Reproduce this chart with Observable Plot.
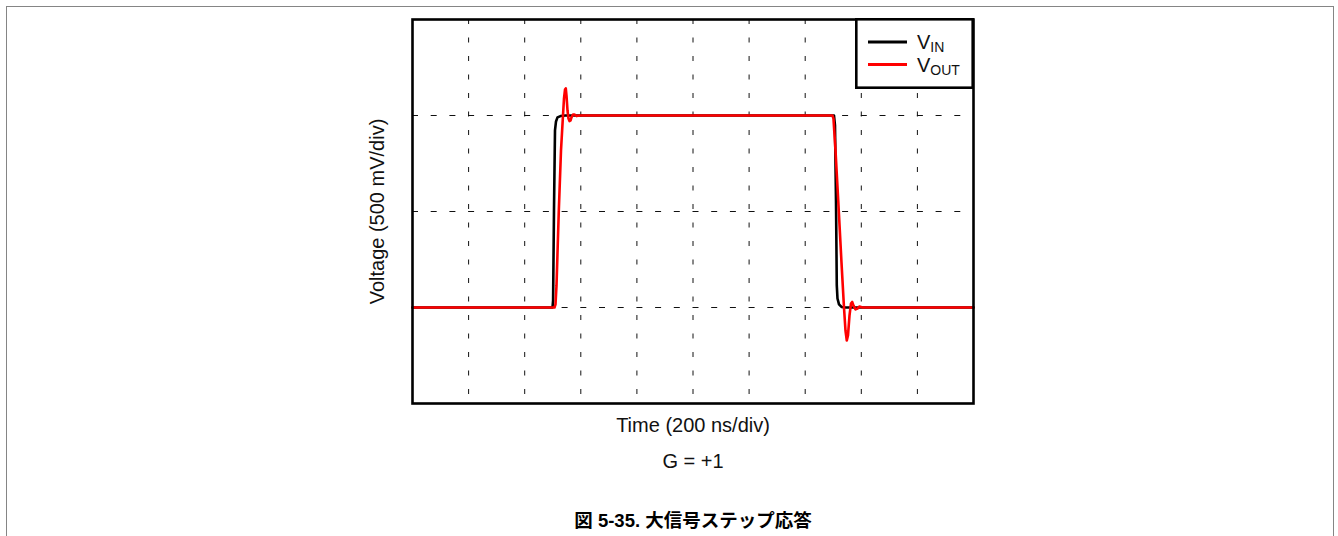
<!DOCTYPE html>
<html>
<head>
<meta charset="utf-8">
<script src="https://cdn.jsdelivr.net/npm/d3@7"></script>
<script src="https://cdn.jsdelivr.net/npm/@observablehq/plot@0.6"></script>
<style>
  body { margin: 0; background: #fff; font-family: "Liberation Sans", Arial, sans-serif; }
  #wrap { position: relative; width: 1338px; height: 536px; overflow: hidden; background: #fff; }
  #border { position: absolute; left: 6px; top: 6px; width: 1328px; height: 620px; border: 1.5px solid #858585; box-sizing: border-box; }
  #chart { position: absolute; left: 0; top: 0; }
  #legend { position: absolute; left: 855px; top: 18px; }
</style>
</head>
<body>
<div id="wrap">
  <div id="border"></div>
  <div id="chart"></div>
  <svg id="legend" width="120" height="72"></svg>
</div>
<script>
// ---- data (time in ns, voltage in V; 200 ns/div, 500 mV/div) ----
const vinTime = [0, 499.1, 501.2, 504.4, 508.0, 511.6, 516.9, 527.6, 545.4, 1000,
                 1502.6, 1506.2, 1509.8, 1512.6, 1515.1, 1520.5, 1529.4, 1543.6, 2000];
const vinVolt = [-0.5, -0.5, -0.464, 0.005, 0.422, 0.469, 0.490, 0.497, 0.5, 0.5,
                 0.5, 0.448, 0.057, -0.385, -0.453, -0.484, -0.497, -0.5, -0.5];

const voutTime = [0, 506.2, 509.8, 513.4, 521.6, 529.4, 536.5, 540.1, 543.7, 546.5,
                  549.0, 552.6, 556.1, 559.7, 563.3, 566.8, 572.2, 577.5, 584.7, 595.4,
                  1000, 1497.3, 1500.8, 1508.0, 1518.7, 1529.4, 1538.3, 1543.6, 1548.3, 1552.5,
                  1557.9, 1563.2, 1567.5, 1572.2, 1579.3, 1586.4, 1593.6, 1604.3, 2000];
const voutVolt = [-0.5, -0.5, -0.484, -0.385, 0.005, 0.318, 0.5, 0.589, 0.635, 0.641,
                  0.604, 0.526, 0.484, 0.471, 0.474, 0.490, 0.505, 0.505, 0.497, 0.5,
                  0.5, 0.5, 0.484, 0.318, 0.031, -0.266, -0.5, -0.620, -0.672, -0.646,
                  -0.542, -0.479, -0.471, -0.490, -0.510, -0.505, -0.495, -0.5, -0.5];

const timeGrid = [200, 400, 600, 800, 1000, 1200, 1400, 1600, 1800];
const voltGrid = [-0.5, 0, 0.5];
const timeDomain = [0, 2000];
const voltDomain = [-1, 1];

const seriesNames = ["V", "V"];
const seriesSubs = ["IN", "OUT"];
const seriesColors = ["#000000", "#ff0000"];

const xLabel = "Time (200 ns/div)";
const yLabel = "Voltage (500 mV/div)";
const noteText = "G = +1";
const captionText = "図 5-35. 大信号ステップ応答";

const vin = vinTime.map((t, i) => ({t, v: vinVolt[i]}));
const vout = voutTime.map((t, i) => ({t, v: voutVolt[i]}));

const font = '"Liberation Sans", Arial, "Noto Sans CJK JP", sans-serif';

const chart = Plot.plot({
  width: 1338,
  height: 536,
  marginLeft: 412,
  marginRight: 365,
  marginTop: 19,
  marginBottom: 133,
  style: { fontFamily: font, background: "transparent", overflow: "visible" },
  x: { domain: timeDomain, axis: null },
  y: { domain: voltDomain, axis: null },
  marks: [
    Plot.ruleX(timeGrid, { x: d => d, stroke: "#111", strokeWidth: 1, strokeDasharray: "5,13.5" }),
    Plot.ruleY(voltGrid, { y: d => d, stroke: "#111", strokeWidth: 1, strokeDasharray: "6,12.7" }),
    Plot.line(vin, { x: "t", y: "v", stroke: seriesColors[0], strokeWidth: 2.6 }),
    Plot.line(vout, { x: "t", y: "v", stroke: seriesColors[1], strokeWidth: 2.6 }),
    Plot.frame({ stroke: "#000", strokeWidth: 2.6 }),
    Plot.text([xLabel], { text: d => d, frameAnchor: "bottom", lineAnchor: "middle", textAnchor: "middle", dy: 22, fontSize: 20, fill: "#111" }),
    Plot.text([noteText], { text: d => d, frameAnchor: "bottom", lineAnchor: "middle", textAnchor: "middle", dy: 58, fontSize: 20, fill: "#111" }),
    Plot.text([captionText], { text: d => d, frameAnchor: "bottom", lineAnchor: "middle", textAnchor: "middle", dy: 118, fontSize: 18.5, fontWeight: "bold", fill: "#000" }),
    Plot.text([yLabel], { text: d => d, frameAnchor: "left", lineAnchor: "middle", textAnchor: "middle", dx: -35, rotate: -90, fontSize: 20, fill: "#111" })
  ]
});
document.getElementById("chart").appendChild(chart);

// legend (inside plot, top-right corner)
const lg = d3.select("#legend");
lg.append("rect").attr("x", 1.3).attr("y", 1.3).attr("width", 116.4).attr("height", 68.4)
  .attr("fill", "#fff").attr("stroke", "#000").attr("stroke-width", 2.6);
seriesNames.forEach((name, i) => {
  const yy = 24 + i * 22.5;
  lg.append("line").attr("x1", 13).attr("x2", 52).attr("y1", yy).attr("y2", yy)
    .attr("stroke", seriesColors[i]).attr("stroke-width", 3);
  const t = lg.append("text").attr("x", 62).attr("y", yy + 7)
    .attr("font-family", font).attr("font-size", 20).attr("fill", "#111");
  t.append("tspan").text(name);
  t.append("tspan").attr("font-size", 14).attr("dy", 3).text(seriesSubs[i]);
});
</script>
</body>
</html>
